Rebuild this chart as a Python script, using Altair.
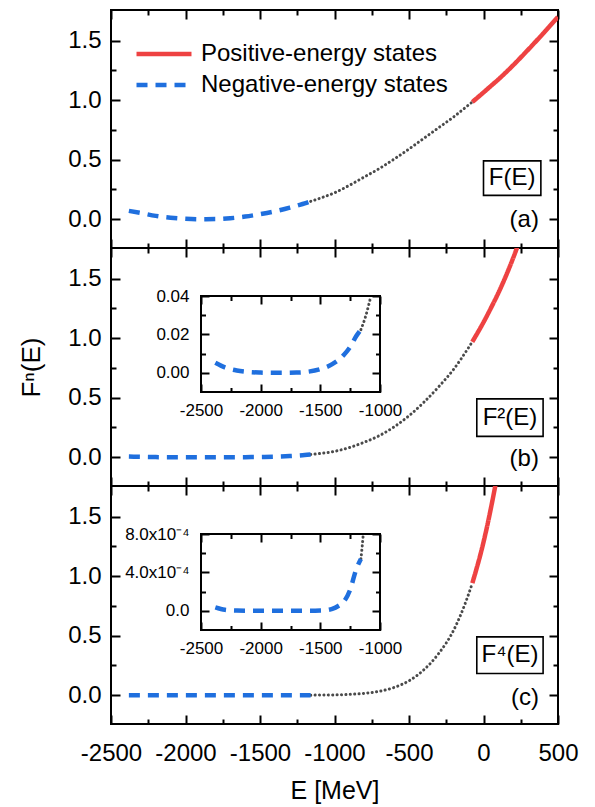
import altair as alt
import pandas as pd

POS = "Positive-energy states"
NEG = "Negative-energy states"

# ---------------- values ----------------
# negative-energy branch (blue dashed)
E_neg = [-2380, -2300, -2200, -2100, -2000, -1900, -1800, -1700, -1600, -1500, -1400, -1300, -1250, -1200, -1160]
F1_neg = [0.070, 0.052, 0.028, 0.013, 0.004, 0.000, 0.001, 0.008, 0.022, 0.042, 0.066, 0.097, 0.115, 0.133, 0.150]
F2_neg = [0.0049, 0.0027, 0.0008, 0.0002, 0.0000, 0.0000, 0.0000, 0.0001, 0.0005, 0.0018, 0.0044, 0.0094, 0.0132, 0.0177, 0.0225]
F4_neg = [0.00002, 0.00001, 0.0, 0.0, 0.0, 0.0, 0.0, 0.0, 0.0, 0.0, 0.00002, 0.00009, 0.00017, 0.00031, 0.00051]

# gap between the branches (gray dotted)
E_mid = [-1160, -1100, -1000, -900, -800, -700, -600, -500, -400, -300, -200, -100, -75]
F1_mid = [0.150, 0.175, 0.222, 0.285, 0.355, 0.425, 0.505, 0.590, 0.680, 0.770, 0.860, 0.960, 0.985]
F2_mid = [0.0225, 0.0306, 0.0493, 0.0812, 0.1260, 0.1806, 0.2550, 0.3481, 0.4624, 0.5929, 0.7396, 0.9216, 0.9702]
F4_mid = [0.0005, 0.0009, 0.0024, 0.0066, 0.0159, 0.0326, 0.0650, 0.1212, 0.2138, 0.3515, 0.5470, 0.8493, 0.9413]

# positive-energy branch (red solid)
E_pos = [-75, 0, 50, 100, 200, 300, 400, 500]
F1_pos = [0.985, 1.065, 1.120, 1.175, 1.295, 1.425, 1.560, 1.700]
F2_pos = [0.970, 1.134, 1.254, 1.381, 1.677, 2.031, 2.434, 2.890]
F4_pos = [0.941, 1.286, 1.573, 1.906, 2.812, 4.123, 5.922, 8.352]

# inset of panel (b): F^2
E_in2_neg = [-2380, -2300, -2200, -2100, -2000, -1900, -1800, -1700, -1600, -1500, -1400, -1300, -1250, -1200, -1160]
F2_in_neg = [0.0052, 0.0028, 0.0012, 0.0004, 0.0001, 0.0, 0.0, 0.0001, 0.0006, 0.0019, 0.0045, 0.0095, 0.0135, 0.0190, 0.0225]
E_in2_mid = [-1160, -1120, -1076]
F2_in_mid = [0.0225, 0.0295, 0.0400]

# inset of panel (c): F^4
E_in4_neg = [-2380, -2300, -2200, -2100, -2000, -1900, -1800, -1700, -1600, -1500, -1450, -1400, -1350, -1300, -1250, -1200, -1160]
F4_in_neg = [3.5e-5, 1.0e-5, 2e-6, 0.0, 0.0, 0.0, 0.0, 0.0, 0.0, 2e-6, 6e-6, 2.0e-5, 5.0e-5, 1.0e-4, 2.2e-4, 4.3e-4, 5.4e-4]
E_in4_mid = [-1160, -1150, -1140]
F4_in_mid = [5.4e-4, 6.6e-4, 8.0e-4]

# tick values
X_MAJOR = [-2500, -2000, -1500, -1000, -500, 0, 500]
X_MINOR = [-2250, -1750, -1250, -750, -250, 250]
Y_MAJOR = [0.0, 0.5, 1.0, 1.5]
Y_MINOR = [0.25, 0.75, 1.25]
IN_X_MAJOR = [-2500, -2000, -1500, -1000]
IN_X_MINOR = [-2250, -1750, -1250]
IN2_Y_MAJOR = [0.0, 0.02, 0.04]
IN2_Y_MINOR = [0.01, 0.03]
IN4_Y_MAJOR = [0.0, 4e-4, 8e-4]
IN4_Y_MINOR = [2e-4, 6e-4]

BOX_TEXT = ["F(E)", "F\u00b2(E)", "F\u2074(E)"]
LETTERS = ["(a)", "(b)", "(c)"]

# ---------------- layout / style ----------------
W, H = 447, 238
XD = [-2500, 500]
YD = [-0.242, 1.758]
IN_XR = [90, 269]
IN_YR = [144, 48]
FONT = "Liberation Sans"
RED = "#EE4242"
BLUE = "#1F6FDE"
GRAY = "#4A4A4A"
TICK_FS = 24
MAJ, MIN = 9, 5
IMAJ, IMIN = 8, 4.5

# annotation anchors in data units: (x0, x1, y0, y1, text x, text y, letter x, letter y)
ANN = [
    (0, 385, 0.20, 0.49, 192, 0.345, 372, -0.01),
    (-45, 400, 0.175, 0.49, 178, 0.333, 372, -0.017),
    (-45, 400, 0.183, 0.49, 178, 0.337, 372, -0.025),
]


def sc(domain, rng=None):
    if rng is None:
        return alt.Scale(domain=domain, nice=False, zero=False)
    return alt.Scale(domain=domain, range=rng, nice=False, zero=False)


def axis(orient, values, size, offset, labels=False, **kw):
    opts = dict(orient=orient, values=values, tickSize=size, offset=offset,
                domain=False, grid=False, ticks=True, tickColor="black",
                tickWidth=2, labels=labels, minExtent=0)
    opts.update(kw)
    return alt.Axis(**opts)


def seg(E, v, state):
    return pd.DataFrame({"E": E, "v": v, "state": state})


def panel(i, vneg, vmid, vpos, inset=None):
    first, last = i == 0, i == 2
    df_np = pd.concat([seg(E_neg, vneg, NEG), seg(E_pos, vpos, POS)])
    df_mid = seg(E_mid, vmid, "gap")

    xl = dict(labelFontSize=TICK_FS, labelPadding=17, labelFlush=False, labelOverlap=False,
              labelExpr="'' + datum.value", labelColor="black",
              titleFontSize=25, titleFontWeight="normal", titlePadding=13, titleColor="black")
    yl = dict(labelFontSize=TICK_FS, labelPadding=10, labelFlush=False, labelOverlap=False,
              format=".1f", labelColor="black",
              titleFontSize=26, titleFontWeight="normal", titlePadding=23, titleColor="black")

    leg = None
    if first:
        leg = alt.Legend(orient="none", legendX=41, legendY=32, title=None,
                         labelFontSize=24, labelColor="black", symbolType="M-4,0L4,0",
                         symbolSize=189, symbolStrokeWidth=4.5, labelOffset=25,
                         rowPadding=7, padding=0, labelLimit=500)

    xa = axis("bottom", X_MAJOR, MAJ, -MAJ, labels=last, **xl)
    ya = axis("left", Y_MAJOR, MAJ, -MAJ, labels=True, **yl)

    xt = "E [MeV]" if last else None
    yt = "F\u207f(E)" if i == 1 else None

    lines = alt.Chart(df_np).mark_line(strokeWidth=4.5, clip=True, interpolate="monotone").encode(
        x=alt.X("E:Q", scale=sc(XD), axis=xa, title=xt),
        y=alt.Y("v:Q", scale=sc(YD), axis=ya, title=yt),
        color=alt.Color("state:N", scale=alt.Scale(domain=[POS, NEG], range=[RED, BLUE]), legend=leg),
        strokeDash=alt.StrokeDash("state:N", scale=alt.Scale(domain=[POS, NEG], range=[[1, 0], [11, 8]]), legend=leg),
    )
    gap = alt.Chart(df_mid).mark_line(color=GRAY, strokeWidth=3, strokeDash=[0.1, 4.3],
                                      strokeCap="round", clip=True, interpolate="monotone").encode(
        x=alt.X("E:Q", scale=sc(XD), axis=axis("bottom", X_MINOR, MIN, -MIN), title=None),
        y=alt.Y("v:Q", scale=sc(YD), axis=axis("left", Y_MINOR, MIN, -MIN), title=None),
    )
    c1 = alt.Chart(df_mid).mark_point(opacity=0, size=1, clip=True).encode(
        x=alt.X("E:Q", scale=sc(XD), axis=axis("top", X_MAJOR, MAJ, -MAJ), title=None),
        y=alt.Y("v:Q", scale=sc(YD), axis=axis("right", Y_MAJOR, MAJ, -MAJ), title=None),
    )
    c2 = alt.Chart(df_mid).mark_point(opacity=0, size=1, clip=True).encode(
        x=alt.X("E:Q", scale=sc(XD), axis=axis("top", X_MINOR, MIN, -MIN), title=None),
        y=alt.Y("v:Q", scale=sc(YD), axis=axis("right", Y_MINOR, MIN, -MIN), title=None),
    )

    a = ANN[i]
    ann = pd.DataFrame({"x0": [a[0]], "x1": [a[1]], "y0": [a[2]], "y1": [a[3]],
                        "tx": [a[4]], "ty": [a[5]], "lx": [a[6]], "ly": [a[7]],
                        "t": [BOX_TEXT[i]], "l": [LETTERS[i]]})
    box = alt.Chart(ann).mark_rect(fillOpacity=0, stroke="black", strokeWidth=1.6).encode(
        x=alt.X("x0:Q", scale=sc(XD), axis=None), x2="x1:Q",
        y=alt.Y("y0:Q", scale=sc(YD), axis=None), y2="y1:Q",
    )
    btxt = alt.Chart(ann).mark_text(fontSize=24, align="center", baseline="middle", color="black").encode(
        x=alt.X("tx:Q", scale=sc(XD), axis=None),
        y=alt.Y("ty:Q", scale=sc(YD), axis=None),
        text="t:N",
    )
    ltxt = alt.Chart(ann).mark_text(fontSize=24, align="right", baseline="middle", color="black").encode(
        x=alt.X("lx:Q", scale=sc(XD), axis=None),
        y=alt.Y("ly:Q", scale=sc(YD), axis=None),
        text="l:N",
    )

    layers = [gap, lines, c1, c2, box, btxt, ltxt]

    if inset is not None:
        iE_neg, iv_neg, iE_mid, iv_mid, iyd, iy_major, iy_minor, iy_expr = inset
        ixs = lambda: sc([-2500, -1000], IN_XR)
        iys = lambda: sc(iyd, IN_YR)
        ilab = dict(labelFontSize=17, labelColor="black", labelFlush=False, labelOverlap=False)
        ia_left = axis("left", iy_major, IMAJ, -(IN_XR[0] + IMAJ), labels=True,
                       labelPadding=12, labelExpr=iy_expr, **ilab)
        ia_bottom = axis("bottom", IN_X_MAJOR, IMAJ, (IN_YR[0] - IMAJ) - H, labels=True,
                         labelPadding=10, labelExpr="'' + datum.value", **ilab)
        in_neg = seg(iE_neg, iv_neg, NEG)
        in_mid = seg(iE_mid, iv_mid, "gap")
        frame = pd.DataFrame({"x0": [-2500], "x1": [-1000], "y0": [iyd[0]], "y1": [iyd[1]]})
        iframe = alt.Chart(frame).mark_rect(fillOpacity=0, stroke="black", strokeWidth=2).encode(
            x=alt.X("x0:Q", scale=ixs(), axis=None), x2="x1:Q",
            y=alt.Y("y0:Q", scale=iys(), axis=None), y2="y1:Q",
        )
        iblue = alt.Chart(in_neg).mark_line(color=BLUE, strokeWidth=4.5, strokeDash=[11, 8],
                                            interpolate="monotone").encode(
            x=alt.X("E:Q", scale=ixs(), axis=ia_bottom, title=None),
            y=alt.Y("v:Q", scale=iys(), axis=ia_left, title=None),
        )
        igray = alt.Chart(in_mid).mark_line(color=GRAY, strokeWidth=3, strokeDash=[0.1, 4.3],
                                            strokeCap="round", interpolate="monotone").encode(
            x=alt.X("E:Q", scale=ixs(), axis=axis("bottom", IN_X_MINOR, IMIN, (IN_YR[0] - IMIN) - H), title=None),
            y=alt.Y("v:Q", scale=iys(), axis=axis("left", iy_minor, IMIN, -(IN_XR[0] + IMIN)), title=None),
        )
        ic1 = alt.Chart(in_mid).mark_point(opacity=0, size=1).encode(
            x=alt.X("E:Q", scale=ixs(), axis=axis("top", IN_X_MAJOR, IMAJ, -(IN_YR[1] + IMAJ)), title=None),
            y=alt.Y("v:Q", scale=iys(), axis=axis("right", iy_major, IMAJ, (IN_XR[1] - IMAJ) - W), title=None),
        )
        ic2 = alt.Chart(in_mid).mark_point(opacity=0, size=1).encode(
            x=alt.X("E:Q", scale=ixs(), axis=axis("top", IN_X_MINOR, IMIN, -(IN_YR[1] + IMIN)), title=None),
            y=alt.Y("v:Q", scale=iys(), axis=axis("right", iy_minor, IMIN, (IN_XR[1] - IMIN) - W), title=None),
        )
        layers += [iframe, igray, iblue, ic1, ic2]

    return alt.layer(*layers).resolve_scale(
        x="independent", y="independent"
    ).resolve_axis(x="independent", y="independent").properties(width=W, height=H)


pa = panel(0, F1_neg, F1_mid, F1_pos)
pb = panel(1, F2_neg, F2_mid, F2_pos,
           inset=(E_in2_neg, F2_in_neg, E_in2_mid, F2_in_mid, [-0.01, 0.04],
                  IN2_Y_MAJOR, IN2_Y_MINOR, "format(datum.value, '.2f')"))
pc = panel(2, F4_neg, F4_mid, F4_pos,
           inset=(E_in4_neg, F4_in_neg, E_in4_mid, F4_in_mid, [-2e-4, 8e-4],
                  IN4_Y_MAJOR, IN4_Y_MINOR,
                  "datum.value == 0 ? '0.0' : format(datum.value * 10000, '.1f') + 'x10\u207b\u2074'"))

chart = alt.vconcat(pa, pb, pc, spacing=0, bounds="flush").properties(
    padding={"left": 9, "top": 0, "right": 5, "bottom": 0}
).configure(font=FONT).configure_view(stroke="black", strokeWidth=2)

chart.save("out.html", embed_options={"renderer": "svg", "actions": False})
